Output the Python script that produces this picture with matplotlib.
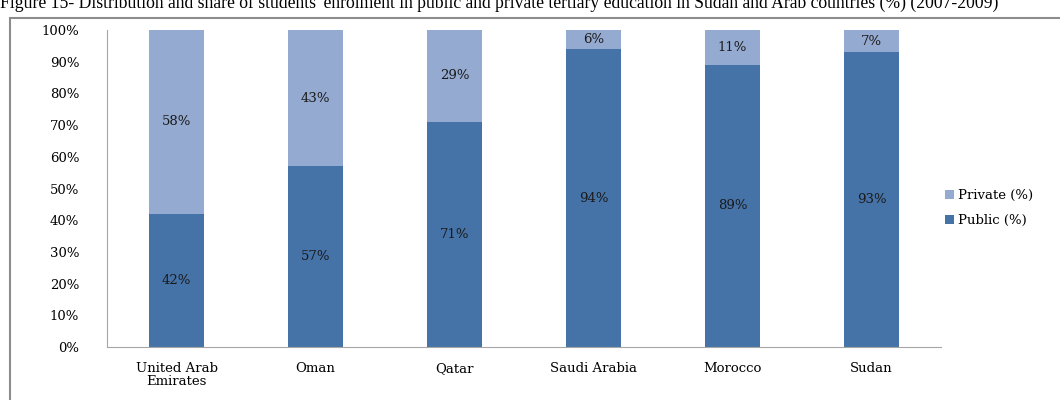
import matplotlib
matplotlib.use("Agg")
import matplotlib.pyplot as plt
from matplotlib.patches import Rectangle
import numpy as np

# Datos
paises = ["United Arab\nEmirates", "Oman", "Qatar", "Saudi Arabia", "Morocco", "Sudan"]
publico = [42, 57, 71, 94, 89, 93]
privado = [58, 43, 29, 6, 11, 7]
ticks_y = [0, 10, 20, 30, 40, 50, 60, 70, 80, 90, 100]

color_pub = "#4573a8"
color_priv = "#95aad1"
gris = "#a6a6a6"
fuente = "DejaVu Serif"

fig = plt.figure(figsize=(10.6, 4.0), dpi=100)

# Titulo (cortado arriba como en la imagen)
fig.text(0.0, 1 - 8 / 400, "Figure 15- Distribution and share of students' enrolment in public and private "
         "tertiary education in Sudan and Arab countries (%) (2007-2009)",
         family="Liberation Serif", fontsize=12.7, ha="left", va="baseline")

# Marco del grafico
marco = Rectangle((10 / 1060, -0.05), 1.2, 1 - 18 / 400 + 0.05, transform=fig.transFigure,
                  fill=False, edgecolor="#8c8c8c", lw=1.5)
fig.add_artist(marco)

ax = fig.add_axes([107 / 1060, 53 / 400, (941 - 107) / 1060, (347 - 30) / 400])
x = np.arange(len(paises))
b1 = ax.bar(x, publico, width=0.4, color=color_pub, label="Public (%)")
b2 = ax.bar(x, privado, width=0.4, bottom=publico, color=color_priv, label="Private (%)")

for i in range(len(paises)):
    ax.text(x[i], publico[i] / 2, f"{publico[i]}%", ha="center", va="center",
            family=fuente, fontsize=9.5, color="#1a1a1a")
    ax.text(x[i], publico[i] + privado[i] / 2, f"{privado[i]}%", ha="center", va="center",
            family=fuente, fontsize=9.5, color="#1a1a1a")

ax.set_xlim(-0.5, len(paises) - 0.5)
ax.set_ylim(0, 100)
ax.set_yticks(ticks_y)
ax.set_yticklabels([f"{t}%" for t in ticks_y], family=fuente, fontsize=9.5)
ax.set_xticks(x)
ax.set_xticklabels(paises, family=fuente, fontsize=9.5, linespacing=1.0)
ax.tick_params(axis="y", length=0, pad=20)
ax.tick_params(axis="x", length=0, pad=11)
for s in ["top", "right"]:
    ax.spines[s].set_visible(False)
ax.spines["left"].set_color(gris)
ax.spines["bottom"].set_color(gris)

handles = [b2, b1]
leg = fig.legend(handles, ["Private (%)", "Public (%)"], loc="center left",
                 bbox_to_anchor=(933 / 1060, 1 - 208 / 400), frameon=False,
                 prop={"family": fuente, "size": 9.5}, handlelength=0.7, handleheight=0.7,
                 handletextpad=0.3, labelspacing=0.9)

fig.savefig("out.png", dpi=100)
